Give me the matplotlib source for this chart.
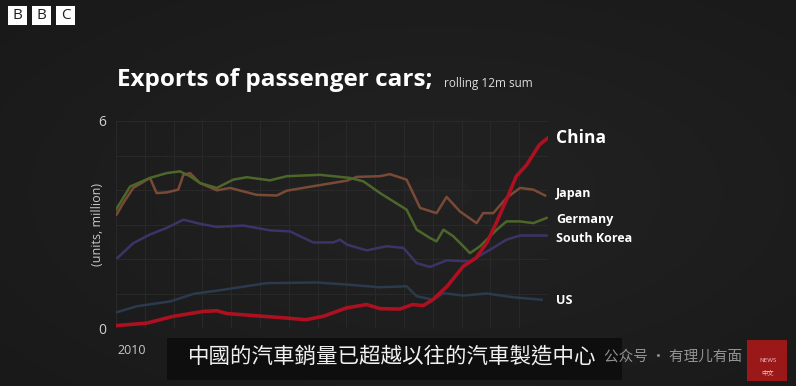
import numpy as np
import matplotlib
matplotlib.use("Agg")
import matplotlib.pyplot as plt
from matplotlib.patches import Rectangle

# Exports of passenger cars, rolling 12m sum (units, million)
china_years = [2010, 2011.06, 2012.0, 2013.03, 2013.5, 2013.84, 2015.1, 2015.9, 2016.6,
               2017.2, 2018.0, 2018.7, 2019.17, 2019.86, 2020.3, 2020.67, 2021.0, 2021.5,
               2022.06, 2022.5, 2022.87, 2023.2, 2023.56, 2023.9, 2024.26, 2024.7, 2025.0]
china = [0.07, 0.14, 0.34, 0.48, 0.50, 0.42, 0.34, 0.29, 0.24, 0.34, 0.58, 0.68, 0.56,
         0.55, 0.68, 0.65, 0.82, 1.21, 1.79, 2.03, 2.46, 3.04, 3.72, 4.40, 4.73, 5.31, 5.51]

germany_years = [2010, 2010.49, 2011.18, 2011.76, 2012.22, 2012.57, 2012.92, 2013.5, 2014.07,
                 2014.54, 2015.35, 2015.93, 2017.08, 2018.13, 2018.59, 2019.17, 2019.63,
                 2020.09, 2020.44, 2020.9, 2021.13, 2021.37, 2021.71, 2022.06, 2022.29,
                 2022.64, 2023.22, 2023.56, 2024.03, 2024.49, 2024.95]
germany = [3.43, 4.1, 4.35, 4.49, 4.54, 4.40, 4.2, 4.06, 4.3, 4.37, 4.28, 4.40, 4.44, 4.35,
           4.25, 3.91, 3.67, 3.43, 2.85, 2.61, 2.51, 2.85, 2.66, 2.37, 2.17, 2.37, 2.85,
           3.09, 3.09, 3.04, 3.19]

japan_years = [2010.02, 2010.25, 2010.6, 2011.18, 2011.41, 2011.76, 2012.16, 2012.34, 2012.57,
               2012.92, 2013.5, 2013.96, 2014.88, 2015.58, 2015.93, 2016.85, 2018.01, 2018.36,
               2019.17, 2019.51, 2020.09, 2020.56, 2021.13, 2021.48, 2021.94, 2022.52,
               2022.75, 2023.1, 2023.56, 2024.03, 2024.49, 2024.9]
japan = [3.29, 3.62, 4.06, 4.35, 3.91, 3.93, 4.01, 4.44, 4.49, 4.20, 3.99, 4.06, 3.86, 3.84,
         3.98, 4.11, 4.27, 4.38, 4.40, 4.46, 4.30, 3.48, 3.33, 3.80, 3.38, 3.04, 3.33, 3.33,
         3.77, 4.06, 4.01, 3.84]

korea_years = [2010.05, 2010.6, 2011.18, 2011.76, 2012.34, 2012.92, 2013.5, 2014.42, 2015.35,
               2016.04, 2016.85, 2017.55, 2017.78, 2018.01, 2018.7, 2019.4, 2019.98, 2020.44,
               2020.9, 2021.48, 2022.29, 2022.99, 2023.56, 2024.03, 2024.95]
korea = [2.03, 2.46, 2.71, 2.90, 3.14, 3.02, 2.93, 2.97, 2.83, 2.80, 2.48, 2.48, 2.56, 2.42,
         2.25, 2.37, 2.32, 1.88, 1.77, 1.96, 1.93, 2.27, 2.56, 2.68, 2.68]

us_years = [2010, 2010.72, 2011.88, 2012.69, 2013.73, 2015.23, 2016.97, 2018.01, 2019.17,
            2020.09, 2020.44, 2021.02, 2021.37, 2022.06, 2022.87, 2023.8, 2024.78]
us = [0.45, 0.63, 0.77, 0.99, 1.11, 1.30, 1.32, 1.26, 1.18, 1.21, 0.92, 0.82, 1.01, 0.94,
      1.00, 0.89, 0.82]

BG = "#1e1e1e"
W, H = 796, 386

plt.rcParams["font.family"] = ["Open Sans", "Noto Sans CJK TC", "DejaVu Sans"]

fig = plt.figure(figsize=(W / 100, H / 100), dpi=100, facecolor=BG)

# soft vignette behind everything
bg = fig.add_axes([0, 0, 1, 1], zorder=-10)
yy, xx = np.mgrid[0:H, 0:W]
r = np.sqrt(((xx - W * 0.55) / W) ** 2 + ((yy - H * 0.5) / H) ** 2)
bg.imshow(0.135 - 0.05 * np.clip(r, 0, 1), cmap="gray", vmin=0, vmax=1,
          extent=[0, 1, 0, 1], aspect="auto")
bg.axis("off")


def px(x, y):
    """pixel coords (top-left origin) to figure fraction"""
    return x / W, 1 - y / H


ax = fig.add_axes([116 / W, 1 - 328 / H, (548 - 116) / W, (328 - 121) / H])
ax.set_facecolor("none")
ax.set_xlim(2010, 2025)
ax.set_ylim(0, 6)

for yr in range(2010, 2026):
    ax.axvline(yr, color="#2b2b2b", lw=0.6, zorder=0)
for v in range(0, 7):
    ax.axhline(v, color="#2b2b2b", lw=0.6, zorder=0)

ax.plot(us_years, us, color="#2b3a4c", lw=1.8)
ax.plot(korea_years, korea, color="#3c3468", lw=1.8)
ax.plot(japan_years, japan, color="#7a4a36", lw=1.8)
ax.plot(germany_years, germany, color="#4d672b", lw=1.8)
ax.plot(china_years, china, color="#ad1020", lw=2.6)

for s in ax.spines.values():
    s.set_visible(False)
ax.set_xticks([])
ax.set_yticks([0, 6])
ax.set_yticklabels(["0", "6"])
ax.tick_params(axis="y", length=0, pad=7, colors="#d0d0d0", labelsize=10)
ax.set_ylabel("(units, million)", color="#c8c8c8", fontsize=9, labelpad=-4)

# series labels
labels = [("China", 138, 12.5, "bold"), ("Japan", 193, 9, "bold"),
          ("Germany", 219, 9, "bold"), ("South Korea", 238, 9, "bold"),
          ("US", 301, 9, "bold")]
for name, y, size, weight in labels:
    fig.text(*px(556, y), name, color="white", fontsize=size, fontweight=weight,
             va="center", ha="left")

fig.text(*px(117, 350), "2010", color="#c8c8c8", fontsize=9, va="center", ha="left")

# title
fig.text(*px(117, 80), "Exports of passenger cars;", color="white", fontsize=17.5,
         fontweight="bold", va="center", ha="left")
fig.text(*px(444, 84), "rolling 12m sum", color="#dddddd", fontsize=8.5,
         va="center", ha="left")

# BBC blocks
for i, letter in enumerate("BBC"):
    x0 = 8 + i * 24
    fig.patches.append(Rectangle(px(x0, 25), 19 / W, 19 / H, transform=fig.transFigure,
                                 facecolor="white", edgecolor="none"))
    fig.text(*px(x0 + 9.5, 15.5), letter, color="#1e1e1e", fontsize=11,
             ha="center", va="center")

# subtitle bar
fig.patches.append(Rectangle(px(167, 380), (622 - 167) / W, 42 / H, transform=fig.transFigure,
                             facecolor="#0c0c0c", edgecolor="none", alpha=0.85))
fig.text(*px(392, 357), "中國的汽車銷量已超越以往的汽車製造中心", color="#f0f0f0",
         fontsize=15.5, ha="center", va="center", family=["Noto Sans CJK TC", "DejaVu Sans"])

# watermark
fig.text(*px(604, 357), "公众号 · 有理儿有面", color="#bbbbbb", alpha=0.75,
         fontsize=10.5, ha="left", va="center", family=["Noto Sans CJK SC", "DejaVu Sans"])

# news logo box
fig.patches.append(Rectangle(px(747, 381), 40 / W, 41 / H, transform=fig.transFigure,
                             facecolor="#9a1818", edgecolor="none"))
fig.text(*px(768, 360), "NEWS", color="#e8c8c8", fontsize=4.5, ha="center", va="center")
fig.text(*px(768, 373), "中文", color="#e8c8c8", fontsize=4.5, ha="center", va="center",
         family=["Noto Sans CJK TC", "DejaVu Sans"])

fig.savefig("out.png", dpi=100, facecolor=BG)
